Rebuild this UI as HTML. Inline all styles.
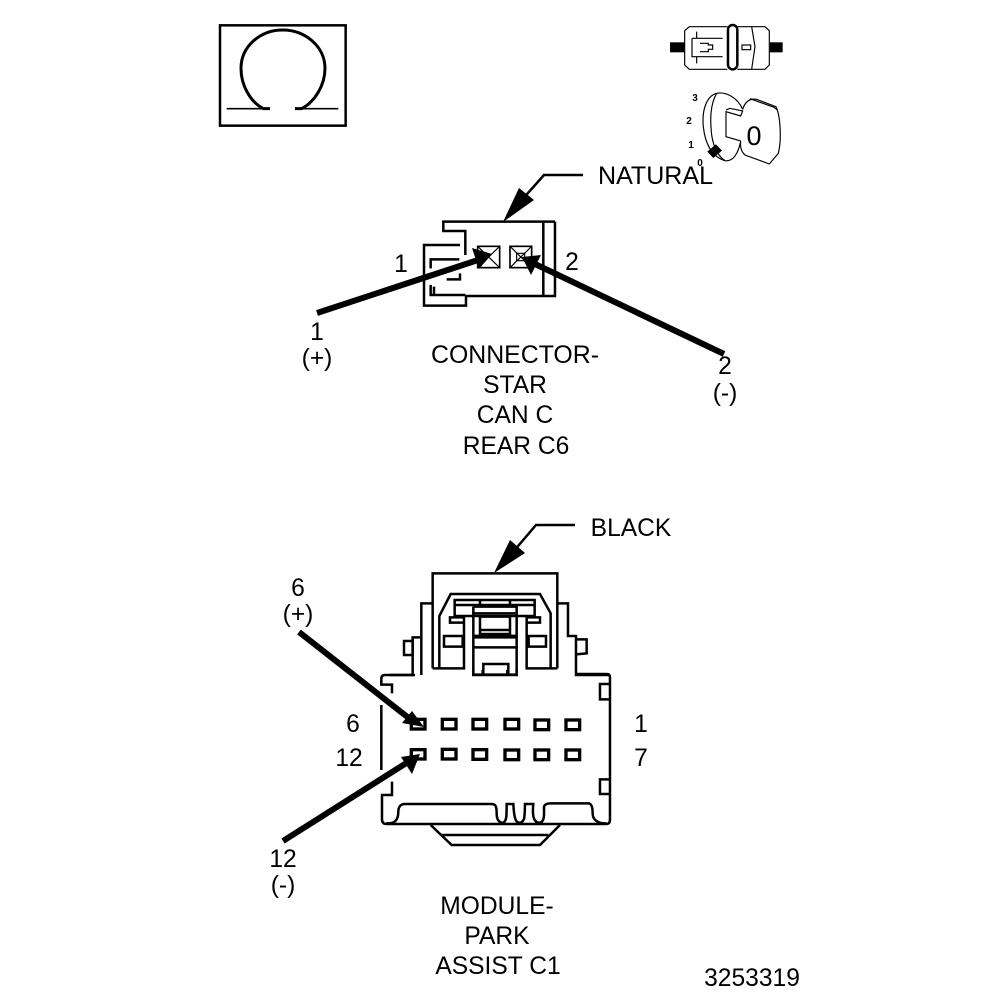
<!DOCTYPE html>
<html><head><meta charset="utf-8">
<style>
html,body{margin:0;padding:0;background:#fff;width:1008px;height:1000px;overflow:hidden}
svg{display:block}
text{font-family:"Liberation Sans",sans-serif;font-size:24.6px;fill:#000;text-anchor:middle}
.l{fill:none;stroke:#000;stroke-width:7.5}
.t{fill:none;stroke:#000;stroke-width:3.5}
.f{fill:#000;stroke:none}
.k{font-size:10px;font-weight:bold}
</style></head><body>
<svg width="1008" height="1000" viewBox="0 0 1008 1000" xmlns="http://www.w3.org/2000/svg">
<rect width="1008" height="1000" fill="#fff"/>

<!-- Omega -->
<g transform="translate(200,10) scale(.3333)">
<rect x="60" y="46" width="377" height="301" class="l"/>
<path class="t" style="stroke-width:5" d="M80 296H190M285 296H415"/>
<path class="l" style="stroke-width:9" d="M210 296H190C150 275 123 225 123 175C123 110 180 60 248 60C316 60 375 110 375 175C375 225 345 275 305 296H285"/>
</g>

<!-- fuse icon -->
<g transform="translate(650,10) scale(.3333)">
<rect class="f" x="60" y="97" width="43" height="30"/>
<rect class="f" x="360" y="97" width="38" height="30"/>
<path class="t" d="M232 50H118L104 62V165L118 178H232"/>
<path class="t" d="M126 85H140V65M126 85V140H140V160M126 85H218M126 140H218M150 100H175V105H188V118H175V125H150"/>
<rect class="l" x="234" y="45" width="28" height="133" rx="14"/>
<path class="t" d="M262 50H345L358 62V165L345 178H262M305 50L315 110L305 178"/>
<rect class="t" x="276" y="105" width="26" height="14"/>
</g>

<!-- key icon -->
<g transform="translate(650,10) scale(.3333)">
<path class="t" d="M278 298C262 260 225 245 200 250C170 258 155 300 160 350C165 400 185 440 225 452C245 455 262 440 272 395"/>
<path class="t" d="M200 250C180 285 180 330 185 375C190 410 205 440 225 452"/>
<path class="t" d="M228 300L240 295L278 303L272 318L228 305V380L272 393"/>
<path class="t" d="M278 298C285 275 300 265 320 268L378 290C392 320 395 390 385 430L358 462L285 435C268 420 272 400 272 393"/>
<path class="t" d="M300 266L372 292L382 300"/>
<path class="f" d="M172 425L198 403L216 422L190 444Z"/>
</g>
<text x="754" y="145" style="font-size:27px">0</text>
<text x="695" y="101" class="k">3</text>
<text x="689" y="124" class="k">2</text>
<text x="691" y="148" class="k">1</text>
<text x="700" y="166" class="k">0</text>

<!-- NATURAL label -->
<text x="655.5" y="184" textLength="115" lengthAdjust="spacingAndGlyphs">NATURAL</text>
<path d="M583 175H544L520 202" fill="none" stroke="#000" stroke-width="2.5"/>
<path class="f" d="M503 222L519 188L534 200Z"/>

<!-- Star connector -->
<g transform="translate(410,170) scale(.3333)">
<path class="l" d="M435 155H100V183H166V255M166 378H435V155M400 155V378"/>
<path class="l" d="M150 225H42V407H168V378"/>
<path class="l" d="M62 295V268H148M150 310V328H110M62 345V375H166M72 350V375"/>
<rect class="t" style="stroke-width:5" x="203" y="229" width="66" height="64"/>
<path class="t" d="M203 229L269 293M269 229L203 293"/>
<rect class="t" style="stroke-width:5" x="300" y="229" width="65" height="64"/>
<path class="t" d="M300 229L365 293M365 229L300 293"/>
<rect class="t" x="320" y="250" width="24" height="22"/>
</g>
<text x="401" y="272">1</text>
<text x="572" y="270">2</text>

<!-- pin arrows -->
<path d="M317 313L478 260" stroke="#000" stroke-width="6" fill="none"/>
<path class="f" d="M492 254L472 248L479 269Z"/>
<path d="M724 354L535 264" stroke="#000" stroke-width="6" fill="none"/>
<path class="f" d="M522 257L541 255L531 275Z"/>

<text x="317" y="340">1</text>
<text x="317" y="366">(+)</text>
<text x="725" y="374">2</text>
<text x="725" y="401">(-)</text>
<text x="515" y="363" textLength="168" lengthAdjust="spacingAndGlyphs">CONNECTOR-</text>
<text x="515" y="393">STAR</text>
<text x="515" y="423">CAN C</text>
<text x="516" y="454">REAR C6</text>

<!-- BLACK label -->
<text x="631" y="536">BLACK</text>
<path d="M575 525H536L513 552" fill="none" stroke="#000" stroke-width="2.5"/>
<path class="f" d="M494 573L510 540L525 553Z"/>

<!-- Module top -->
<g transform="translate(390,560) scale(.3333)">
<path class="l" d="M128 325V40H502V325"/>
<path class="l" d="M128 130H94V345M68 232V345H0"/>
<path class="l" d="M502 130H534V228H558V345H660"/>
<path class="l" d="M90 232H68V285H42V243H68"/>
<path class="l" d="M558 238H590V280L558 283"/>
<path class="l" d="M148 323V168L182 102H450L482 160V323"/>
<path class="l" d="M128 325H222V172H180V188H222"/>
<path class="l" d="M502 325H410V172H450V188H410"/>
<path class="l" d="M194 120H434V135H194ZM194 135V168H434V135M270 120V135M360 120V135"/>
<path class="l" d="M250 140V345H380V140H250M250 160H376"/>
<path class="l" d="M270 170V222H360V170ZM270 210H360"/>
<path class="l" style="stroke-width:12" d="M250 230H380"/>
<path class="l" d="M162 228H218V260H162ZM416 228H468V260H416Z"/>
<path class="l" d="M250 262H380M280 345V312H355V345"/>
</g>

<!-- Module body -->
<g transform="translate(370,670) scale(.3333)">
<path class="l" d="M135 15H45Q34 15 34 26V44H66V70"/>
<path class="l" d="M310 0V14H440V0M338 0V14M412 0V14"/>
<path class="l" d="M620 12H710Q720 12 720 22V450Q720 462 708 462H50Q36 462 36 448V375H66V335"/>
<path class="l" d="M34 105V300"/>
<path class="l" d="M718 42H690V88H718M718 328H690V372H718"/>
<path class="l" d="M48 460C75 462 85 450 85 425C85 410 92 402 105 402H365C378 402 380 412 380 430C380 452 390 460 400 458C410 452 410 440 410 402H430C432 440 436 460 450 458C465 455 464 440 465 402H490C486 440 492 460 510 458C525 455 522 430 522 412C522 405 530 400 540 400H655C665 400 668 412 668 430C668 450 685 462 710 460"/>
<path class="l" d="M182 465L245 525H510L570 465M215 495H535"/>
<g class="l" style="stroke-width:10">
<rect x="124" y="148" width="41" height="29"/><rect x="217" y="148" width="41" height="29"/><rect x="309" y="148" width="41" height="29"/><rect x="405" y="148" width="41" height="29"/><rect x="495" y="150" width="41" height="29"/><rect x="588" y="150" width="41" height="29"/>
<rect x="124" y="239" width="41" height="28"/><rect x="217" y="238" width="41" height="29"/><rect x="309" y="239" width="41" height="29"/><rect x="405" y="240" width="41" height="29"/><rect x="495" y="240" width="41" height="29"/><rect x="588" y="240" width="41" height="29"/>
</g>
</g>

<!-- module pin arrows -->
<path d="M299 632L410 719" stroke="#000" stroke-width="6" fill="none"/>
<path class="f" d="M420 727L408 711L398 723Z" transform="translate(4,0)"/>
<path d="M283 841L408 762" stroke="#000" stroke-width="6" fill="none"/>
<path class="f" d="M420 754L401 757L412 774Z"/>

<text x="298" y="596">6</text>
<text x="298" y="622">(+)</text>
<text x="353" y="732">6</text>
<text x="349" y="766">12</text>
<text x="641" y="732">1</text>
<text x="641" y="766">7</text>
<text x="283" y="867">12</text>
<text x="283" y="893">(-)</text>
<text x="497" y="914">MODULE-</text>
<text x="497" y="944">PARK</text>
<text x="498" y="974">ASSIST C1</text>
<text x="752" y="986">3253319</text>
</svg>
</body></html>
